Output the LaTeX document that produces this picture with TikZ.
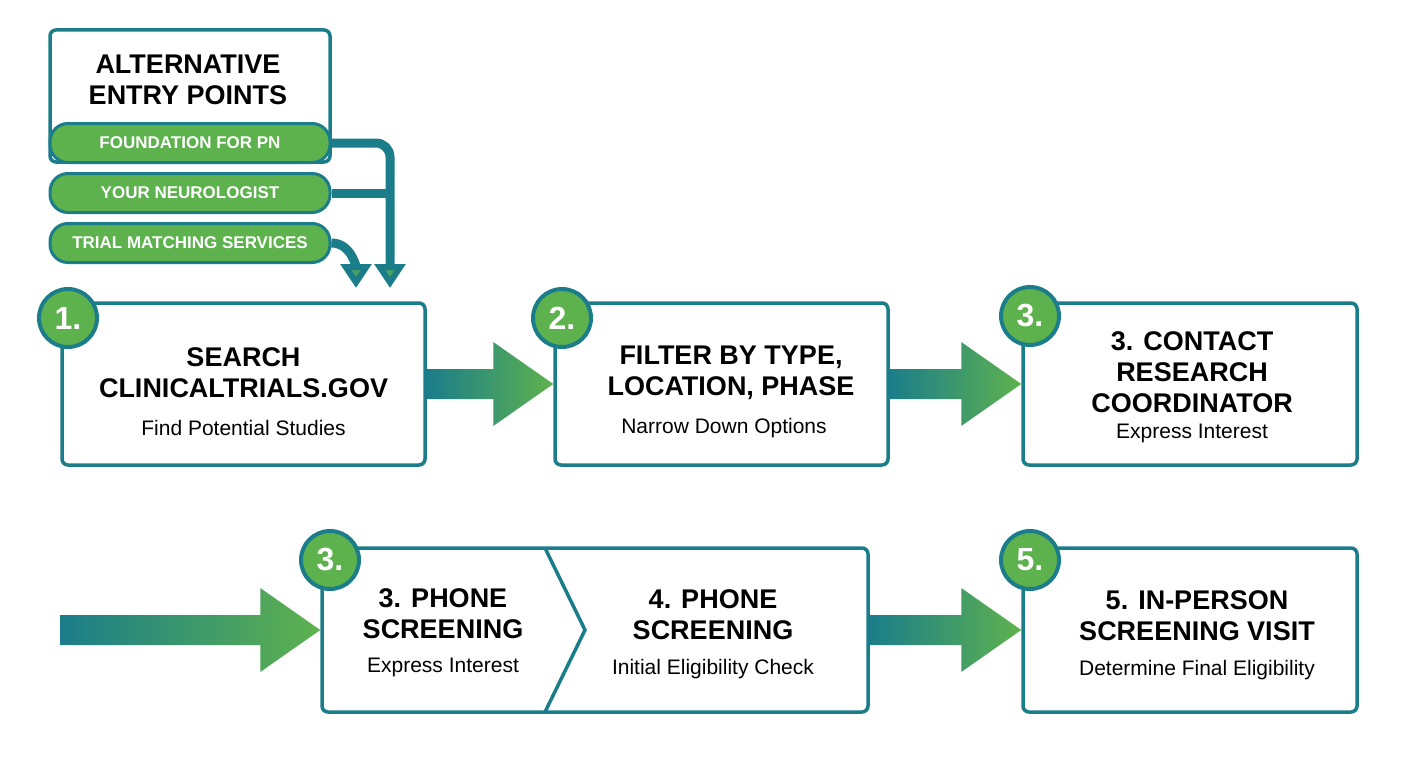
\documentclass[tikz,border=0pt]{standalone}
\usepackage{fontspec}
\setmainfont{Liberation Sans}
\usetikzlibrary{positioning,calc,arrows.meta}
\definecolor{tealc}{HTML}{1B7D8A}
\definecolor{greenc}{HTML}{5EB24E}
\tikzset{
  box/.style={draw=tealc,line width=3.5pt,rounded corners=6pt,fill=white,inner sep=0pt},
  pill/.style={draw=tealc,line width=3pt,rounded corners=18pt,fill=greenc,minimum width=280pt,minimum height=39pt,
    text=white,font=\bfseries\fontsize{17}{20}\selectfont},
  badge/.style={circle,draw=tealc,line width=4pt,fill=greenc,minimum size=58pt,inner sep=0pt,
    text=white,font=\bfseries\fontsize{32}{34}\selectfont},
  title/.style={align=center,font=\bfseries\fontsize{27}{31}\selectfont},
  sub/.style={font=\fontsize{21}{24}\selectfont},
  link/.style={draw=tealc,line width=9pt,rounded corners=14pt,
    -{Triangle[length=24pt,width=30pt,fill=greenc!70!tealc]}},
}
\newcommand\fatarrow[2]{%
  \path[left color=tealc,right color=greenc] let \p1=#1, \p2=#2 in
    (\x1,\y1+15pt) -- (\x2-60pt,\y1+15pt) -- (\x2-60pt,\y1+42pt) -- (\x2,\y1)
    -- (\x2-60pt,\y1-42pt) -- (\x2-60pt,\y1-15pt) -- (\x1,\y1-15pt) -- cycle;}
\begin{document}
\begin{tikzpicture}[x=1pt,y=-1pt]
\useasboundingbox (0,0) rectangle (1408,768);
% entry points
\node[box,minimum width=280pt,minimum height=132pt] (alt) at (190,96) {};
\node[title] at (188,80) {ALTERNATIVE\\ENTRY POINTS};
\node[pill] (fpn) at (190,143) {FOUNDATION FOR PN};
\node[pill] (neu) at (190,193) {YOUR NEUROLOGIST};
\node[pill] (tms) at (190,243) {TRIAL MATCHING SERVICES};
\coordinate (d1) at (390,288);
\coordinate (d2) at (356,288);
\draw[link] (fpn.east) -| (d1);
\draw[draw=tealc,line width=9pt,rounded corners=10pt] (neu.east) -- (392,193);
\draw[link] (tms.east) to[out=0,in=90] (d2);
% first row
\node[box,minimum width=363pt,minimum height=162pt] (s1) at (243.5,384) {};
\node[title] at (243.5,373) {SEARCH\\CLINICALTRIALS.GOV};
\node[sub] at (243.5,428) {Find Potential Studies};
\node[badge] at (68,318) {1.};
\node[box,minimum width=333pt,minimum height=162pt] (s2) at (721.5,384) {};
\node[title] at (731,373) {FILTER BY TYPE,\\LOCATION, PHASE};
\node[sub] at (724,428) {Narrow Down Options};
\node[badge] at (562,318) {2.};
\node[box,minimum width=334pt,minimum height=162pt] (s3) at (1190,384) {};
\node[title] at (1192,372) {3. CONTACT\\RESEARCH\\COORDINATOR};
\node[sub] at (1192,433) {Express Interest};
\node[badge] at (1030,316) {3.};
\fatarrow{(s1.east)}{(s2.west)}
\fatarrow{(s2.east)}{(s3.west)}
% second row
\node[box,minimum width=546pt,minimum height=164pt] (ph) at (595,630) {};
\draw[tealc,line width=3.5pt] (545,548) -- (585,630) -- (545,712);
\node[title] at (443,614) {3. PHONE\\SCREENING};
\node[sub] at (443,667) {Express Interest};
\node[title] at (713,615) {4. PHONE\\SCREENING};
\node[sub] at (713,669) {Initial Eligibility Check};
\node[badge] at (330,560) {3.};
\node[box,minimum width=334pt,minimum height=164pt] (s5) at (1190,630) {};
\node[title] at (1197,616) {5. IN-PERSON\\SCREENING VISIT};
\node[sub] at (1197,670) {Determine Final Eligibility};
\node[badge] at (1030,560) {5.};
\coordinate (s0) at (60,630);
\fatarrow{(s0)}{(ph.west)}
\fatarrow{(ph.east)}{(s5.west)}
\end{tikzpicture}
\end{document}
